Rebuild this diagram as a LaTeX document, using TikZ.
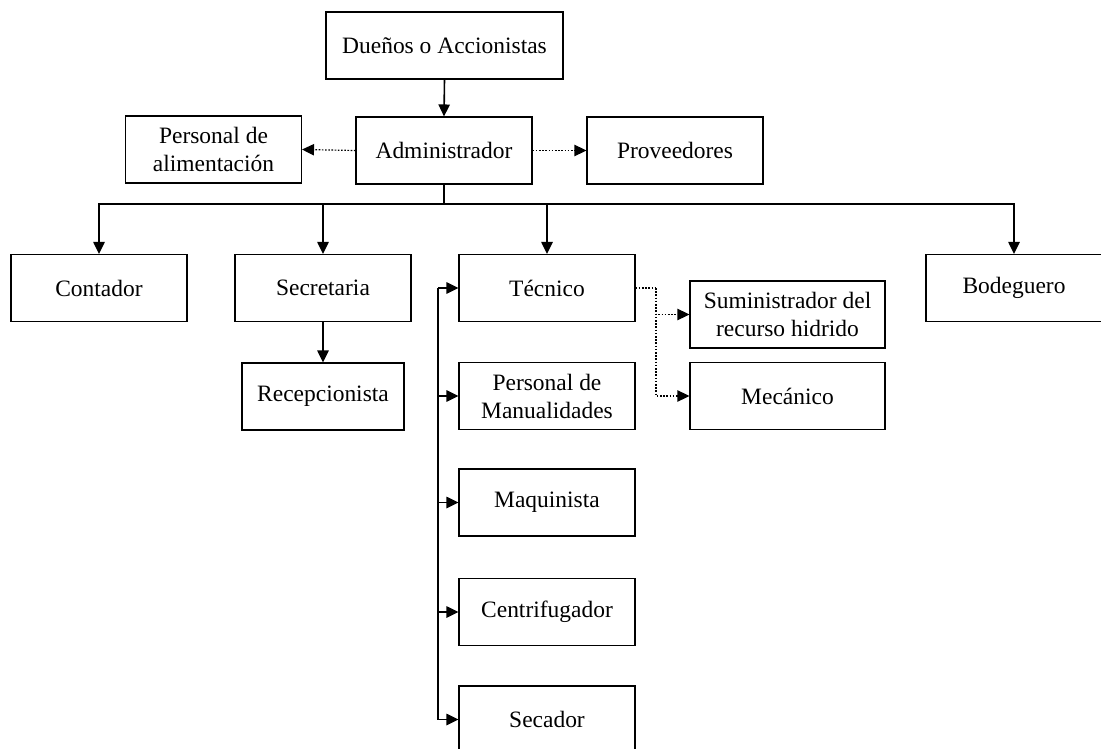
\documentclass[tikz,border=0pt]{standalone}
\usepackage{fontspec}
\setmainfont{Liberation Serif}
\usetikzlibrary{arrows.meta}
\begin{document}
\begin{tikzpicture}[x=0.75pt,y=-0.75pt,
  box/.style={draw, line width=0.8pt, minimum width=132pt, minimum height=50.25pt,
    inner sep=0pt, align=center, font=\fontsize{17.6}{21}\selectfont},
  link/.style={line width=1.2pt},
  tip/.style={-{Triangle[length=9pt,width=8.5pt]}},
  arr/.style={link, tip},
  dotline/.style={line width=0.9pt, dash pattern=on 1.2pt off 1.2pt},
  dotarr/.style={dotline, tip}]
\clip (0,0) rectangle (1101,749);

% top levels
\node[box, minimum width=177.75pt] (due) at (444.5,45.5) {Dueños o Accionistas};
\node[box] (adm) at (444,150.5) {Administrador};
\node[box] (pal) at (213.5,149.5) {Personal de\\alimentación};
\node[box] (prov) at (675,150.5) {Proveedores};

% second level
\node[box] (cont) at (99,288) {Contador};
\node[box] (sec) at (323,288) {Secretaria};
\node[box] (tec) at (547,288) {Técnico};
\node[box] (bod) at (1014,288) {Bodeguero};

% under secretaria
\node[box, minimum width=121.5pt] (rec) at (323,396.5) {Recepcionista};

% technical staff column
\node[box] (man) at (547,396) {Personal de\\Manualidades};
\node[box] (maq) at (547,502.5) {Maquinista};
\node[box] (cen) at (547,612) {Centrifugador};
\node[box] (seca) at (547,719.5) {Secador};

% external to the technician
\node[box, minimum width=146.25pt] (sum) at (787.5,314.5) {Suministrador del\\recurso hidrido};
\node[box, minimum width=146.25pt] (mec) at (787.5,396) {Mecánico};

% connectors
\draw[arr] (due.south) -- (adm.north);
\draw[dotarr] (adm.west) -- (pal.east);
\draw[dotarr] (adm.east) -- (prov.west);

\coordinate (bus) at (444,204);
\draw[link] (adm.south) -- (bus);
\draw[arr] (bus) -| (cont.north);
\draw[arr] (bus) -| (sec.north);
\draw[arr] (bus) -| (tec.north);
\draw[arr] (bus) -| (bod.north);

\draw[arr] (sec.south) -- (rec.north);

% spine feeding the technical staff
\coordinate (sx) at (438,0);
\draw[link] (tec.west -| sx) -- (seca.west -| sx);
\foreach \n in {tec,man,maq,cen,seca}
  \draw[arr] (\n.west -| sx) -- (\n.west);

% dotted branch from the technician
\coordinate (tj) at (656,288);
\draw[dotline] (tec.east) -- (tj);
\draw[dotarr] (tj) |- (sum.west);
\draw[dotarr] (tj) |- (mec.west);
\end{tikzpicture}
\end{document}
